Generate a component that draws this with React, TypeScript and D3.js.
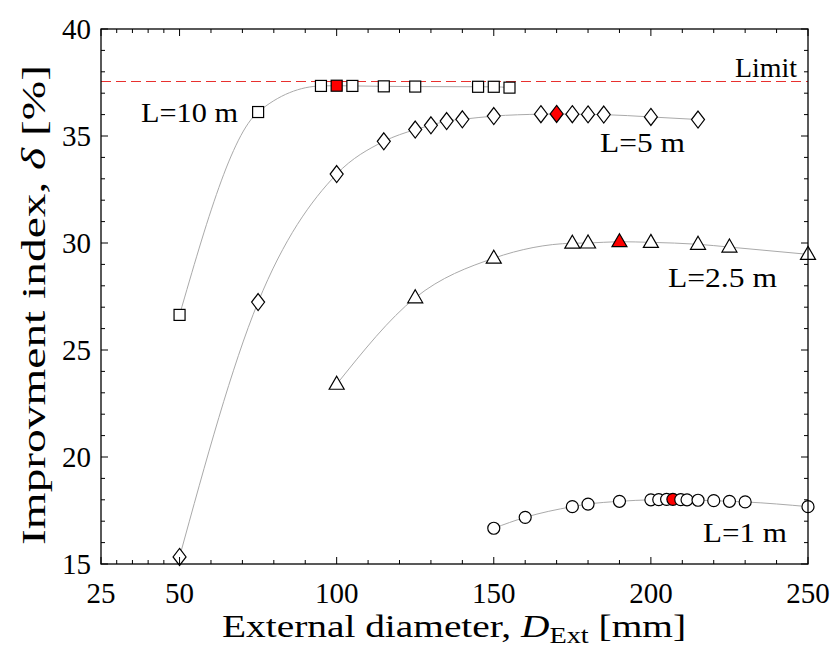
import React from "react";
import * as d3 from "d3";

const L10_x = [50, 75, 95, 100, 105, 115, 125, 145, 150, 155];
const L10_y = [26.64, 36.12, 37.34, 37.35, 37.34, 37.32, 37.31, 37.3, 37.3, 37.26];
const L10_red = 100;

const L5_x = [50, 75, 100, 115, 125, 130, 135, 140, 150, 165, 170, 175, 180, 185, 200, 215];
const L5_y = [15.33, 27.24, 33.22, 34.75, 35.3, 35.5, 35.7, 35.78, 35.93, 36.02, 36.03, 36.02, 36.01, 36.0, 35.89, 35.77];
const L5_red = 170;

const L25_x = [100, 125, 150, 175, 180, 190, 200, 215, 225, 250];
const L25_y = [23.4, 27.44, 29.29, 29.99, 30.0, 30.06, 30.03, 29.94, 29.81, 29.47];
const L25_red = 190;

const L1_x = [150, 160, 175, 180, 190, 200, 202.5, 205, 207, 209.5, 211.5, 215, 220, 225, 230, 250];
const L1_y = [16.67, 17.18, 17.68, 17.8, 17.93, 18.0, 18.01, 18.02, 18.02, 18.01, 18.0, 17.98, 17.96, 17.93, 17.9, 17.68];
const L1_red = 207;

const LIMIT = 37.55;

const xMajor = [25, 50, 100, 150, 200, 250];
const yMajor = [15, 20, 25, 30, 35, 40];

const FONT = "'Liberation Serif', 'DejaVu Serif', serif";

export default function App() {
  const W = 831, H = 653;
  const x = d3.scaleLinear().domain([25, 250]).range([101, 808]);
  const y = d3.scaleLinear().domain([15, 40]).range([564, 29]);
  const [x0, x1] = x.range();
  const [y0, y1] = y.range();

  const xMinor: number[] = [];
  for (let i = 0; i < xMajor.length - 1; i++) {
    const a = xMajor[i], b = xMajor[i + 1];
    for (let k = 1; k < 5; k++) xMinor.push(a + ((b - a) * k) / 5);
  }
  const yMinor: number[] = [];
  for (let v = 15; v <= 40; v += 1) if (v % 5 !== 0) yMinor.push(v);

  const line = d3
    .line<[number, number]>()
    .x((d) => x(d[0]))
    .y((d) => y(d[1]))
    .curve(d3.curveMonotoneX);

  const zip = (xs: number[], ys: number[]) => xs.map((v, i) => [v, ys[i]] as [number, number]);

  const series = [
    { pts: zip(L10_x, L10_y), red: L10_red, shape: "square" },
    { pts: zip(L5_x, L5_y), red: L5_red, shape: "diamond" },
    { pts: zip(L25_x, L25_y), red: L25_red, shape: "triangle" },
    { pts: zip(L1_x, L1_y), red: L1_red, shape: "circle" },
  ];

  const marker = (shape: string, cx: number, cy: number, fill: string, key: string) => {
    const common = { fill, stroke: "#000", strokeWidth: 1.2, key };
    if (shape === "square") return <rect {...common} x={cx - 5.5} y={cy - 5.5} width={11} height={11} />;
    if (shape === "diamond")
      return <path {...common} d={`M${cx},${cy - 8.5}L${cx + 6.5},${cy}L${cx},${cy + 8.5}L${cx - 6.5},${cy}Z`} />;
    if (shape === "triangle")
      return <path {...common} d={`M${cx},${cy - 8}L${cx + 7.5},${cy + 5}L${cx - 7.5},${cy + 5}Z`} />;
    return <circle {...common} cx={cx} cy={cy} r={6} />;
  };

  const ly = Math.round(y(LIMIT)) + 0.5;

  return (
    <div style={{ position: "absolute", left: 0, top: 0 }}>
      <svg width={W} height={H} style={{ display: "block", background: "#fff" }}>
        {/* limit line */}
        <line x1={x0} x2={x1} y1={ly} y2={ly} stroke="#e8302e" strokeWidth={1.1} strokeDasharray="10,5" />
        {/* curves */}
        {series.map((s, i) => (
          <path key={"c" + i} d={line(s.pts) || ""} fill="none" stroke="#aaaaaa" strokeWidth={1} />
        ))}
        {/* markers */}
        {series.map((s, i) =>
          s.pts.map((p, j) => marker(s.shape, x(p[0]), y(p[1]), p[0] === s.red ? "#ff0000" : "#ffffff", `m${i}-${j}`))
        )}
        {/* frame */}
        <rect x={x0} y={y1} width={x1 - x0} height={y0 - y1} fill="none" stroke="#000" strokeWidth={1.3} />
        {/* x ticks */}
        {xMajor.map((v) => (
          <g key={"xm" + v}>
            <line x1={x(v)} x2={x(v)} y1={y0} y2={y0 - 7} stroke="#000" strokeWidth={1} />
            <line x1={x(v)} x2={x(v)} y1={y1} y2={y1 + 7} stroke="#000" strokeWidth={1} />
            <text x={x(v)} y={603} textAnchor="middle" fontFamily={FONT} fontSize={29}>
              {v}
            </text>
          </g>
        ))}
        {xMinor.map((v) => (
          <g key={"xn" + v}>
            <line x1={x(v)} x2={x(v)} y1={y0} y2={y0 - 4} stroke="#000" strokeWidth={1} />
            <line x1={x(v)} x2={x(v)} y1={y1} y2={y1 + 4} stroke="#000" strokeWidth={1} />
          </g>
        ))}
        {/* y ticks */}
        {yMajor.map((v) => (
          <g key={"ym" + v}>
            <line x1={x0} x2={x0 + 7} y1={y(v)} y2={y(v)} stroke="#000" strokeWidth={1} />
            <line x1={x1} x2={x1 - 7} y1={y(v)} y2={y(v)} stroke="#000" strokeWidth={1} />
            <text x={91} y={y(v) + 10} textAnchor="end" fontFamily={FONT} fontSize={29}>
              {v}
            </text>
          </g>
        ))}
        {yMinor.map((v) => (
          <g key={"yn" + v}>
            <line x1={x0} x2={x0 + 4} y1={y(v)} y2={y(v)} stroke="#000" strokeWidth={1} />
            <line x1={x1} x2={x1 - 4} y1={y(v)} y2={y(v)} stroke="#000" strokeWidth={1} />
          </g>
        ))}
        {/* annotations */}
        <text x={797} y={77} textAnchor="end" fontFamily={FONT} fontSize={28} textLength={62} lengthAdjust="spacingAndGlyphs">Limit</text>
        <text x={141} y={122} fontFamily={FONT} fontSize={28} textLength={97} lengthAdjust="spacingAndGlyphs">L=10 m</text>
        <text x={600} y={152} fontFamily={FONT} fontSize={28} textLength={85} lengthAdjust="spacingAndGlyphs">L=5 m</text>
        <text x={668} y={287} fontFamily={FONT} fontSize={28} textLength={109} lengthAdjust="spacingAndGlyphs">L=2.5 m</text>
        <text x={703} y={542} fontFamily={FONT} fontSize={28} textLength={84} lengthAdjust="spacingAndGlyphs">L=1 m</text>
        {/* axis titles */}
        <text x={222} y={637} fontFamily={FONT} fontSize={32} textLength={464} lengthAdjust="spacingAndGlyphs">
          External diameter, <tspan fontStyle="italic">D</tspan>
          <tspan fontSize={23} dy={6}>Ext</tspan>
          <tspan dy={-6}> [mm]</tspan>
        </text>
        <text transform={`translate(45,545) rotate(-90)`} fontFamily={FONT} fontSize={33} textLength={480} lengthAdjust="spacingAndGlyphs">
          Improvment index, <tspan fontStyle="italic">δ</tspan> [%]
        </text>
      </svg>
    </div>
  );
}
